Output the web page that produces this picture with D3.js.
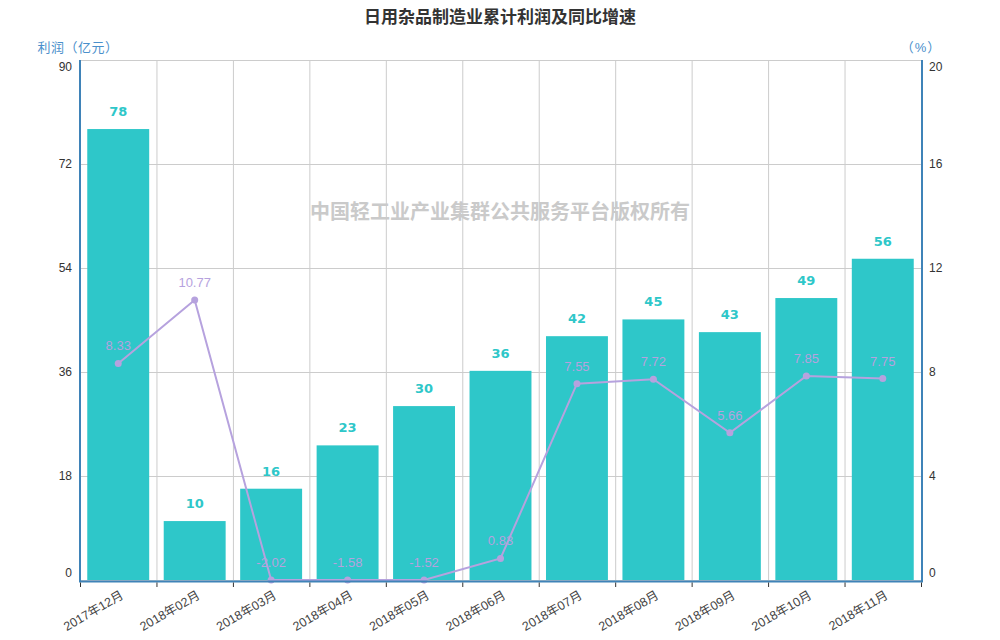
<!DOCTYPE html>
<html>
<head>
<meta charset="utf-8">
<script src="https://cdn.jsdelivr.net/npm/d3@7"></script>
<style>
  body { margin: 0; background: #fff; }
  svg { display: block; font-family: "Liberation Sans", Arial, "Noto Sans CJK SC", sans-serif; }
</style>
</head>
<body>
<div id="chart"></div>
<script>
const width = 1000;
const height = 640;
const margin = { top: 60, right: 79, bottom: 60, left: 80 };

// data
const months = [
  "2017年12月", "2018年02月", "2018年03月", "2018年04月", "2018年05月", "2018年06月",
  "2018年07月", "2018年08月", "2018年09月", "2018年10月", "2018年11月",
];
const profit = [78.05, 10.2, 15.8, 23.3, 30.1, 36.2, 42.2, 45.1, 42.9, 48.8, 55.6];
const growth = [8.33, 10.77, -2.02, -1.58, -1.52, 0.83, 7.55, 7.72, 5.66, 7.85, 7.75];
const leftTicks = [0, 18, 36, 54, 72, 90];
const rightTicks = [0, 4, 8, 12, 16, 20];

const barColor = "#2ec7c9";
const lineColor = "#b6a2de";
const axisColor = "#3f83b8";

const svg = d3.select("#chart").append("svg").attr("width", width).attr("height", height);

const x0 = margin.left;
const x1 = width - margin.right;
const yTop = margin.top;
const yBottom = height - margin.bottom;

const xBand = d3.scaleBand().domain(months).range([x0, x1]).paddingInner(0.19).paddingOuter(0.095);
const xStep = d3.scaleBand().domain(months).range([x0, x1]);
const yLeft = d3.scaleLinear().domain([0, 90]).range([yBottom, yTop]);
const yRight = d3.scaleLinear().domain([0, 20]).range([yBottom, yTop]);

// title
svg.append("text")
  .attr("x", width / 2)
  .attr("y", 23)
  .attr("text-anchor", "middle")
  .attr("font-family", "Noto Sans CJK SC")
  .attr("font-weight", "bold")
  .attr("font-size", "17px")
  .attr("fill", "#333")
  .text("日用杂品制造业累计利润及同比增速");

// grid
const grid = svg.append("g");
grid.selectAll("line.h")
  .data(leftTicks)
  .join("line")
  .attr("x1", x0).attr("x2", x1)
  .attr("y1", (d) => yLeft(d) + 0.5).attr("y2", (d) => yLeft(d) + 0.5)
  .attr("stroke", "#ccc");
grid.selectAll("line.v")
  .data(months.slice(1))
  .join("line")
  .attr("x1", (d) => xStep(d) + 0.5).attr("x2", (d) => xStep(d) + 0.5)
  .attr("y1", yTop).attr("y2", yBottom)
  .attr("stroke", "#ccc");

// watermark
svg.append("text")
  .attr("x", width / 2)
  .attr("y", 219)
  .attr("text-anchor", "middle")
  .attr("font-family", "Noto Sans CJK SC")
  .attr("font-weight", "bold")
  .attr("font-size", "20px")
  .attr("fill", "#cacaca")
  .text("中国轻工业产业集群公共服务平台版权所有");

// bars
svg.selectAll("rect.bar")
  .data(profit)
  .join("rect")
  .attr("class", "bar")
  .attr("x", (d, i) => xBand(months[i]))
  .attr("width", xBand.bandwidth())
  .attr("y", (d) => yLeft(d))
  .attr("height", (d) => yBottom - yLeft(d))
  .attr("fill", barColor);

svg.selectAll("text.bar-label")
  .data(profit)
  .join("text")
  .attr("class", "bar-label")
  .attr("x", (d, i) => xStep(months[i]) + xStep.bandwidth() / 2)
  .attr("y", (d) => yLeft(d) - 13)
  .attr("text-anchor", "middle")
  .attr("font-family", "DejaVu Sans")
  .attr("font-weight", "bold")
  .attr("font-size", "13px")
  .attr("fill", barColor)
  .text((d) => Math.round(d));

// line (values below the axis minimum sit on the axis)
const clampGrowth = (v) => Math.max(0, Math.min(20, v));
const cx = (i) => xStep(months[i]) + xStep.bandwidth() / 2;

svg.append("path")
  .datum(growth)
  .attr("d", d3.line().x((d, i) => cx(i)).y((d) => yRight(clampGrowth(d))))
  .attr("fill", "none")
  .attr("stroke", lineColor)
  .attr("stroke-width", 2);

svg.selectAll("circle.pt")
  .data(growth)
  .join("circle")
  .attr("class", "pt")
  .attr("cx", (d, i) => cx(i))
  .attr("cy", (d) => yRight(clampGrowth(d)))
  .attr("r", 3.5)
  .attr("fill", lineColor);

svg.selectAll("text.pt-label")
  .data(growth)
  .join("text")
  .attr("class", "pt-label")
  .attr("x", (d, i) => cx(i))
  .attr("y", (d) => yRight(clampGrowth(d)) - 13)
  .attr("text-anchor", "middle")
  .attr("font-size", "13px")
  .attr("fill", lineColor)
  .text((d) => d.toFixed(2));

// axes
svg.append("line")
  .attr("x1", x0).attr("x2", x0).attr("y1", yTop).attr("y2", yBottom + 1)
  .attr("stroke", axisColor).attr("stroke-width", 2);
svg.append("line")
  .attr("x1", x1 + 1).attr("x2", x1 + 1).attr("y1", yTop).attr("y2", yBottom + 1)
  .attr("stroke", axisColor).attr("stroke-width", 2);
svg.append("line")
  .attr("x1", x0 - 1).attr("x2", x1 + 2).attr("y1", yBottom + 1.5).attr("y2", yBottom + 1.5)
  .attr("stroke", axisColor).attr("stroke-width", 2);

// bottom ticks at category boundaries
svg.selectAll("line.xtick")
  .data(months.concat(["end"]))
  .join("line")
  .attr("x1", (d, i) => x0 + i * xStep.step() + 0.5)
  .attr("x2", (d, i) => x0 + i * xStep.step() + 0.5)
  .attr("y1", yBottom + 2.5)
  .attr("y2", yBottom + 7)
  .attr("stroke", "#333");

svg.selectAll("text.xlabel")
  .data(months)
  .join("text")
  .attr("class", "xlabel")
  .attr("transform", (d, i) => `translate(${cx(i) + 4},${yBottom + 14}) rotate(-30)`)
  .attr("text-anchor", "end")
  .attr("dy", "0.35em")
  .attr("font-size", "12.5px")
  .attr("fill", "#444")
  .text((d) => d);

// y tick labels, end labels pulled inward like the source
const nudge = (d, max) => (d === max ? 7 : d === 0 ? -7 : 0);
svg.selectAll("text.yl")
  .data(leftTicks)
  .join("text")
  .attr("class", "yl")
  .attr("x", x0 - 8)
  .attr("y", (d) => yLeft(d) + nudge(d, 90))
  .attr("dy", "0.35em")
  .attr("text-anchor", "end")
  .attr("font-size", "12px")
  .attr("fill", "#333")
  .text((d) => d);
svg.selectAll("text.yr")
  .data(rightTicks)
  .join("text")
  .attr("class", "yr")
  .attr("x", x1 + 8)
  .attr("y", (d) => yRight(d) + nudge(d, 20))
  .attr("dy", "0.35em")
  .attr("text-anchor", "start")
  .attr("font-size", "12px")
  .attr("fill", "#333")
  .text((d) => d);

// axis names
svg.append("text")
  .attr("x", x0 - 2)
  .attr("y", 52)
  .attr("text-anchor", "middle")
  .attr("font-size", "13px")
  .attr("letter-spacing", "0.5px")
  .attr("fill", "#4a8fcb")
  .text("利润（亿元）");
svg.append("text")
  .attr("x", x1)
  .attr("y", 52)
  .attr("text-anchor", "middle")
  .attr("font-size", "13px")
  .attr("letter-spacing", "1px")
  .attr("fill", "#4a8fcb")
  .text("（%）");
</script>
</body>
</html>
